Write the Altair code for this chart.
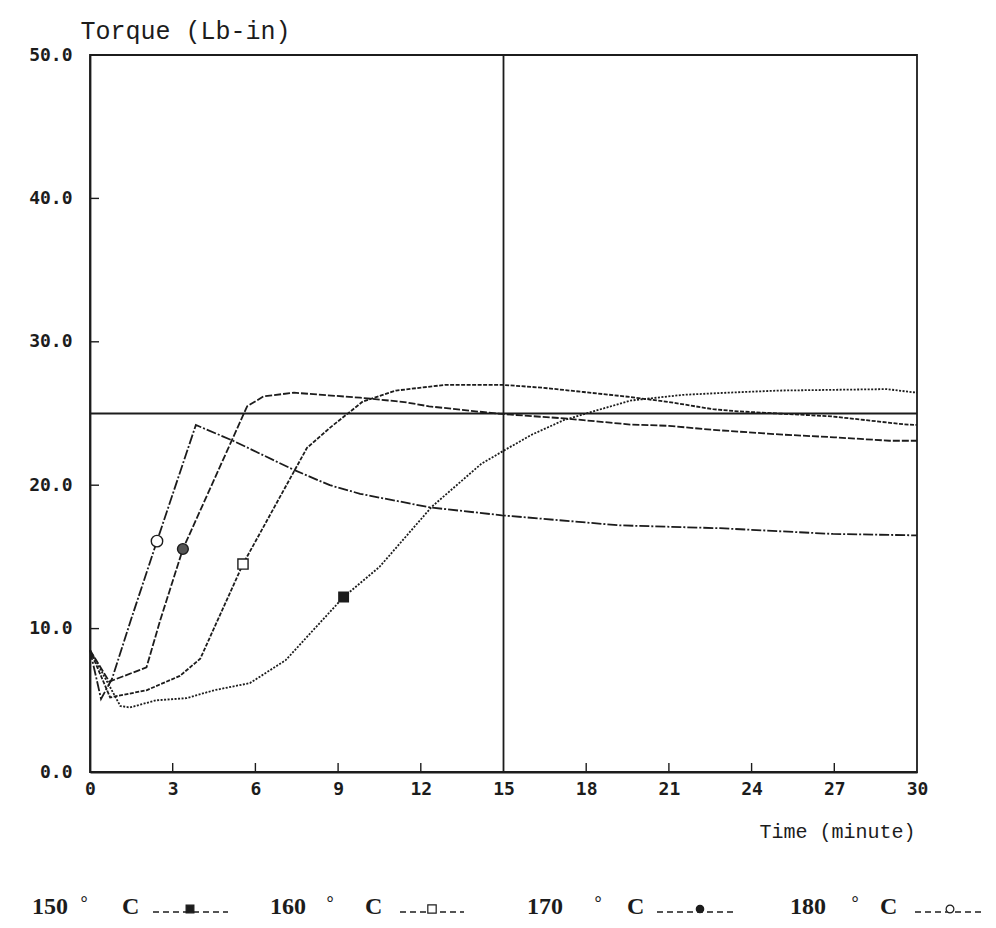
import altair as alt
import pandas as pd

# ---------------- data ----------------
series_names = ["150", "160", "170", "180"]

t150 = [0, 1.1, 1.45, 2.4, 3.5, 4.5, 5.8, 7.1, 8.1, 9.2, 10.5, 12.4, 14.2, 15.0, 16.0, 17.2, 19.6, 21.5, 23.1, 25.0, 28.9, 30]
v150 = [8.5, 4.6, 4.5, 5.0, 5.15, 5.7, 6.2, 7.8, 9.9, 12.2, 14.3, 18.5, 21.5, 22.4, 23.5, 24.55, 25.9, 26.3, 26.45, 26.6, 26.7, 26.45]

t160 = [0, 0.73, 2.05, 3.26, 4.0, 5.55, 7.87, 8.7, 9.9, 11.1, 12.9, 14.95, 16.4, 17.9, 19.6, 21.0, 22.6, 23.5, 26.9, 29.5, 30]
v160 = [8.5, 5.2, 5.7, 6.7, 7.9, 14.5, 22.6, 24.0, 25.84, 26.6, 27.0, 27.0, 26.8, 26.5, 26.15, 25.8, 25.3, 25.15, 24.8, 24.25, 24.2]

t170 = [0, 0.7, 2.05, 2.55, 3.37, 5.7, 6.3, 7.4, 9.8, 11.4, 12.3, 13.5, 14.9, 17.2, 19.6, 21.0, 22.6, 25.0, 27.0, 29.0, 30]
v170 = [8.5, 6.3, 7.3, 10.6, 15.55, 25.5, 26.2, 26.45, 26.1, 25.8, 25.5, 25.25, 24.97, 24.66, 24.23, 24.14, 23.86, 23.54, 23.34, 23.1, 23.1]

t180 = [0, 0.4, 0.8, 1.5, 2.43, 3.84, 5.19, 7.36, 8.7, 9.8, 12.33, 14.94, 19.2, 22.85, 26.95, 30]
v180 = [8.5, 5.1, 6.5, 10.7, 16.1, 24.2, 23.1, 21.1, 20.0, 19.4, 18.45, 17.9, 17.2, 17.0, 16.6, 16.5]

marker_t = [9.2, 5.55, 3.37, 2.43]
marker_v = [12.2, 14.5, 15.55, 16.1]

ref_time = [15]
ref_torque = [25]

x_ticks = [0, 3, 6, 9, 12, 15, 18, 21, 24, 27, 30]
y_ticks = [0, 10, 20, 30, 40, 50]
inner_x_ticks = [3, 6, 9, 12, 18, 21, 24, 27]
inner_y_ticks = [10, 20, 30, 40]

# ---------------- tables ----------------
rows = []
for name, ts, vs in zip(series_names, [t150, t160, t170, t180], [v150, v160, v170, v180]):
    for t, v in zip(ts, vs):
        rows.append({"series": name, "t": t, "v": v})
df = pd.DataFrame(rows)
mk = pd.DataFrame({"series": series_names, "t": marker_t, "v": marker_v})

W, H = 827, 717
INK = "#1c1c1c"
xs = alt.Scale(domain=[0, 30], nice=False, zero=False)
ys = alt.Scale(domain=[0, 50], nice=False, zero=False)

dash_scale = alt.Scale(domain=series_names,
                       range=[[2, 1.5], [4, 1.5], [7, 2], [10, 2, 2, 2]])

x_axis = alt.Axis(values=x_ticks, format="d", title="Time (minute)", ticks=False, grid=False,
                  domainColor=INK, domainWidth=1.8, labelFont="DejaVu Sans Mono", labelFontSize=18,
                  labelFontWeight="bold", labelColor=INK, labelPadding=8, labelFlush=False,
                  titleFont="Liberation Mono", titleFontSize=20, titleFontWeight="normal",
                  titleColor=INK, titleAlign="right", titleX=825, titleY=65,
                  titleBaseline="alphabetic", titleAnchor="end")
y_axis = alt.Axis(values=y_ticks, format=".1f", title="Torque (Lb-in)", ticks=False, grid=False,
                  domainColor=INK, domainWidth=1.8, labelFont="DejaVu Sans Mono", labelFontSize=18,
                  labelFontWeight="bold", labelColor=INK, labelPadding=18, labelFlush=False,
                  titleFont="Liberation Mono", titleFontSize=25, titleFontWeight="normal",
                  titleColor=INK, titleAngle=0, titleAlign="left", titleX=-10, titleY=-17,
                  titleBaseline="alphabetic", titleAnchor="start")

lines = alt.Chart(df).mark_line(color=INK, strokeWidth=1.8, interpolate="linear").encode(
    x=alt.X("t:Q", scale=xs, axis=x_axis),
    y=alt.Y("v:Q", scale=ys, axis=y_axis),
    strokeDash=alt.StrokeDash("series:N", scale=dash_scale, legend=None),
    order=alt.Order("t:Q"),
)

shape_scale = alt.Scale(domain=series_names, range=["square", "square", "circle", "circle"])
fill_scale = alt.Scale(domain=series_names, range=[INK, "white", "#555555", "white"])
size_scale = alt.Scale(domain=series_names, range=[90, 130, 100, 170])

markers = alt.Chart(mk).mark_point(filled=True, stroke=INK, strokeWidth=1.4, opacity=1).encode(
    x=alt.X("t:Q", scale=xs),
    y=alt.Y("v:Q", scale=ys),
    shape=alt.Shape("series:N", scale=shape_scale, legend=None),
    fill=alt.Fill("series:N", scale=fill_scale, legend=None),
    size=alt.Size("series:N", scale=size_scale, legend=None),
)

vref = alt.Chart(pd.DataFrame({"t": ref_time})).mark_rule(color=INK, strokeWidth=1.8).encode(
    x=alt.X("t:Q", scale=xs))
href = alt.Chart(pd.DataFrame({"v": ref_torque})).mark_rule(color=INK, strokeWidth=1.8).encode(
    y=alt.Y("v:Q", scale=ys))

xtick = alt.Chart(pd.DataFrame({"t": inner_x_ticks})).mark_rule(color=INK, strokeWidth=1.4).encode(
    x=alt.X("t:Q", scale=xs), y=alt.value(H), y2=alt.value(H - 9))
ytick = alt.Chart(pd.DataFrame({"v": inner_y_ticks})).mark_rule(color=INK, strokeWidth=1.4).encode(
    y=alt.Y("v:Q", scale=ys), x=alt.value(0), x2=alt.value(9))

# ---------------- bottom legend (typed text line) ----------------
OX, OY = 90, 55  # plot origin on the page
BASE = 914       # legend text baseline on the page
legend_layout = [
    # number x, degree x, C x, symbol start, symbol end, marker x
    ("150", 32, 84, 122, 153, 228, 190),
    ("160", 270, 330, 365, 400, 464, 432),
    ("170", 527, 598, 627, 657, 737, 700),
    ("180", 790, 855, 880, 915, 984, 950),
]
one = pd.DataFrame({"a": [0]})
leg_layers = []
legend_shape = {"150": ("square", True, 60), "160": ("square", False, 70),
                "170": ("circle", True, 55), "180": ("circle", False, 60)}
for name, xn, xd, xc, s0, s1, xm in legend_layout:
    leg_layers.append(alt.Chart(one).mark_text(text=name, font="Liberation Serif", fontSize=24,
                                               fontWeight="bold", color=INK, align="left",
                                               baseline="alphabetic").encode(
        x=alt.value(xn - OX), y=alt.value(BASE - OY)))
    leg_layers.append(alt.Chart(one).mark_text(text="°", font="Liberation Serif", fontSize=18,
                                               fontWeight="bold", color=INK, align="center",
                                               baseline="alphabetic").encode(
        x=alt.value(xd - OX), y=alt.value(BASE - 5 - OY)))
    leg_layers.append(alt.Chart(one).mark_text(text="C", font="Liberation Serif", fontSize=24,
                                               fontWeight="bold", color=INK, align="left",
                                               baseline="alphabetic").encode(
        x=alt.value(xc - OX), y=alt.value(BASE - OY)))
    leg_layers.append(alt.Chart(one).mark_rule(color=INK, strokeWidth=1.3, strokeDash=[6, 4]).encode(
        x=alt.value(s0 - OX), x2=alt.value(s1 - OX), y=alt.value(BASE - 2 - OY)))
    shp, filled, sz = legend_shape[name]
    leg_layers.append(alt.Chart(one).mark_point(shape=shp, filled=True, size=sz, stroke=INK,
                                                strokeWidth=1.2, opacity=1,
                                                fill=INK if filled else "white").encode(
        x=alt.value(xm - OX), y=alt.value(BASE - 5 - OY)))

chart = alt.layer(href, vref, xtick, ytick, lines, markers, *leg_layers).properties(
    width=W, height=H,
    autosize=alt.AutoSizeParams(type="none"),
    padding={"left": 82, "top": 47, "right": 70, "bottom": 146},
    background="white",
).configure_view(stroke=INK, strokeWidth=1.8)

chart.save("out.html", embed_options={"renderer": "svg", "actions": False})
